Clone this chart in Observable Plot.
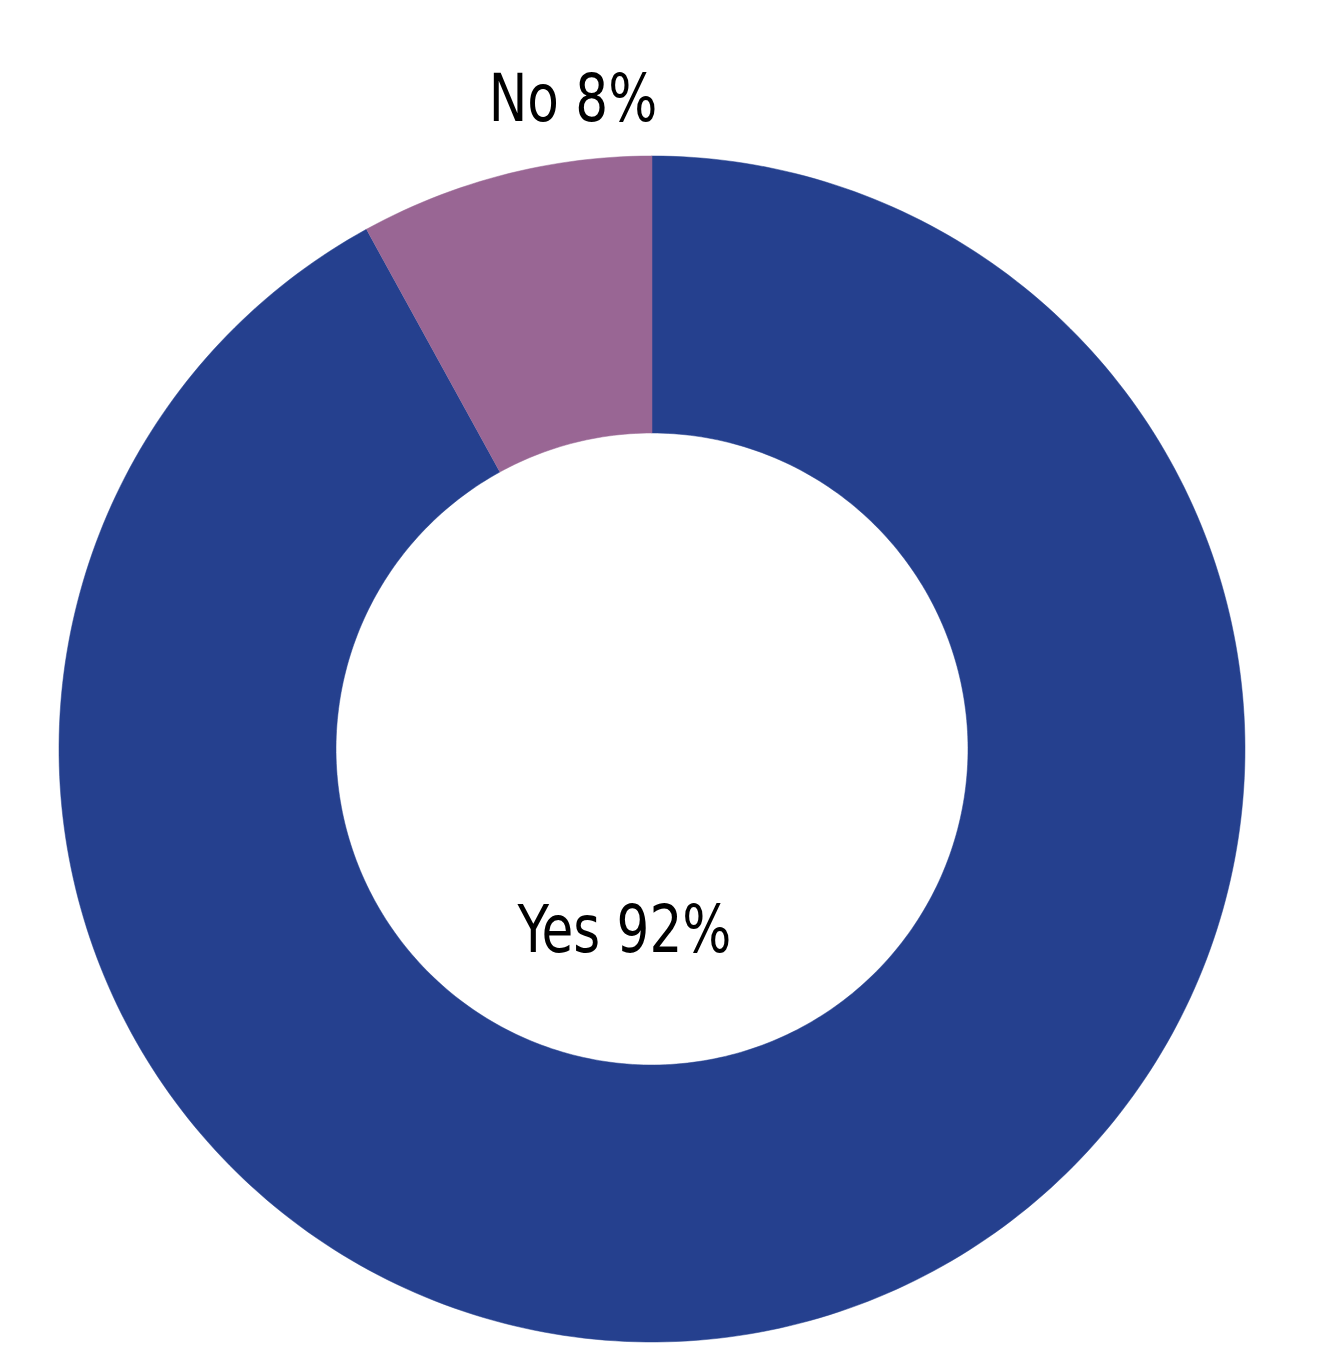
<!DOCTYPE html>
<html>
<head>
<meta charset="utf-8">
<script src="https://cdn.jsdelivr.net/npm/d3@7"></script>
<script src="https://cdn.jsdelivr.net/npm/@observablehq/plot@0.6"></script>
<style>
  html, body { margin: 0; padding: 0; background: #fff; }
  #chart svg { display: block; }
</style>
</head>
<body>
<div id="chart"></div>
<script>
// Data
const categories = ["Yes", "No"];
const shares = [92, 8];
const labels = ["Yes 92%", "No 8%"];
const colors = ["#25408E", "#996694"];

// Layout (pixels / chart units)
const W = 1322, H = 1348;
const cx = 651.5, cy = 748.5;
const outerR = 593, innerR = 316;
// label anchor offsets from center (chart units, y up)
const labelOffsets = {Yes: [-27.5, -202.5], No: [-79, 628.5]};
const narrow = 0.87; // horizontal compression to imitate a condensed face

const data = categories.map((c, i) => ({category: c, value: shares[i], label: labels[i]}));
const arcs = d3.pie().sort(null).value(d => d.value).startAngle(0).endAngle(2 * Math.PI)(data);

// Build polygon outlines of each donut segment from the pie angles
const pts = [];
const steps = 360;
for (const a of arcs) {
  const n = Math.max(8, Math.ceil(steps * (a.endAngle - a.startAngle) / (2 * Math.PI)));
  for (let k = 0; k <= n; k++) {
    const t = a.startAngle + (a.endAngle - a.startAngle) * k / n;
    pts.push({category: a.data.category, x: outerR * Math.sin(t), y: outerR * Math.cos(t)});
  }
  for (let k = n; k >= 0; k--) {
    const t = a.startAngle + (a.endAngle - a.startAngle) * k / n;
    pts.push({category: a.data.category, x: innerR * Math.sin(t), y: innerR * Math.cos(t)});
  }
}

const labelData = data.map(d => ({label: d.label, x: labelOffsets[d.category][0], y: labelOffsets[d.category][1]}));

const chart = Plot.plot({
  width: W,
  height: H,
  margin: 0,
  style: {background: "#fff"},
  x: {domain: [-cx, W - cx], axis: null},
  y: {domain: [-(H - cy), cy], axis: null},
  color: {domain: categories, range: colors},
  marks: [
    Plot.line(pts, {x: "x", y: "y", z: "category", fill: "category", stroke: "category", strokeWidth: 0.5}),
    Plot.text(labelData, {
      x: "x", y: "y", text: "label",
      lineAnchor: "bottom", textAnchor: "middle",
      fontSize: 66, fill: "#000",
      fontFamily: "'Liberation Sans Narrow', 'DejaVu Sans Condensed', sans-serif"
    })
  ]
});
document.getElementById("chart").appendChild(chart);
// compress label glyphs horizontally (text stays real text)
chart.querySelectorAll("text").forEach(t => {
  const len = t.getComputedTextLength();
  if (len > 0) {
    t.setAttribute("textLength", (len * narrow).toFixed(1));
    t.setAttribute("lengthAdjust", "spacingAndGlyphs");
  }
});
</script>
</body>
</html>
